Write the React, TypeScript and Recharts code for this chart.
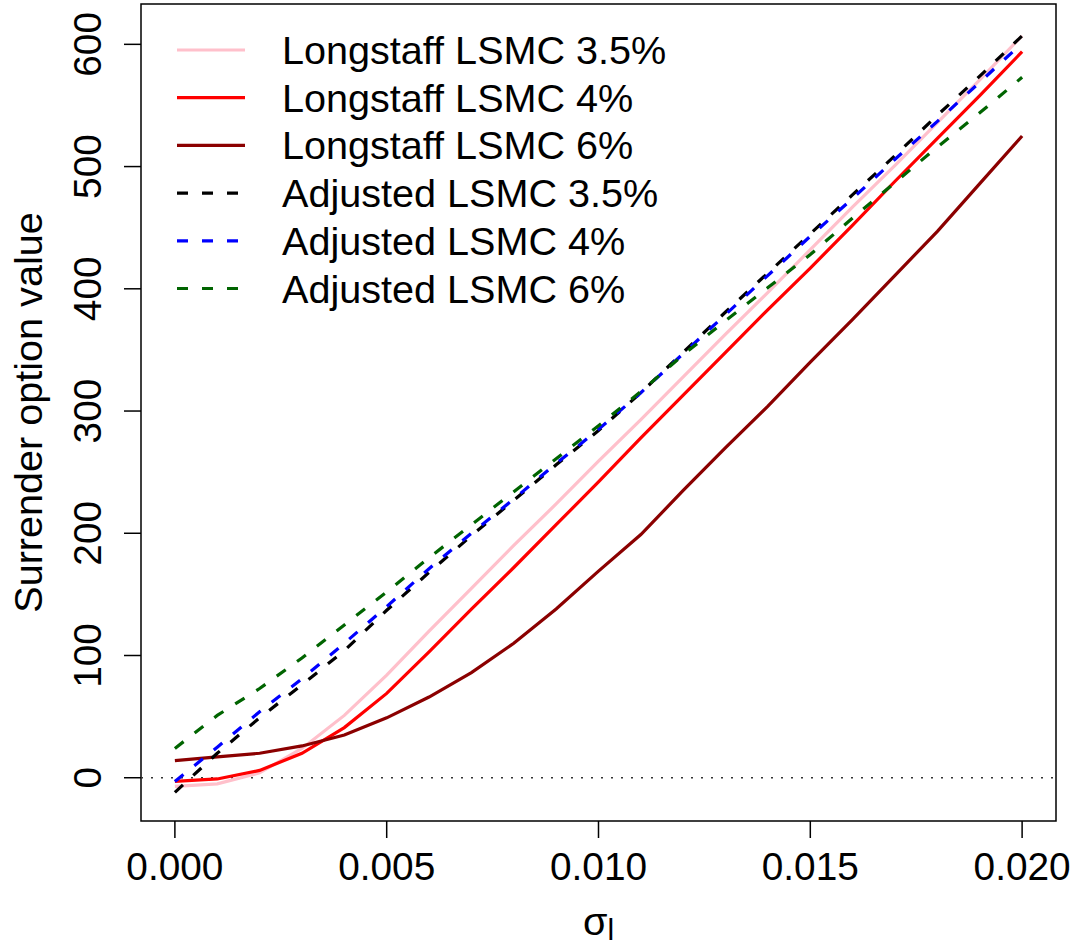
import React from 'react';
import { LineChart, Line, XAxis, YAxis, ReferenceLine, ReferenceArea, Legend } from 'recharts';

const sigmaL = [0, 0.001, 0.002, 0.003, 0.004, 0.005, 0.006, 0.007, 0.008, 0.009, 0.01, 0.011, 0.012, 0.013, 0.014, 0.015, 0.016, 0.017, 0.018, 0.019, 0.02];
const longstaff35 = [-7, -5, 4, 24, 51, 84, 120, 155, 190, 224, 259, 293, 328, 363, 397, 432, 467, 501, 536, 571, 607];
const longstaff4 = [-3, -1, 6, 20, 41, 69, 103, 138, 172, 207, 242, 278, 313, 348, 383, 417, 452, 488, 523, 558, 594];
const longstaff6 = [14, 17, 20, 26, 35, 49, 66, 86, 110, 138, 169, 199, 235, 270, 304, 340, 375, 411, 447, 486, 525];
const adjusted35 = [-12, 20, 49, 76, 104, 137, 168, 198, 227, 256, 284, 315, 348, 381, 413, 445, 477, 509, 542, 574, 607];
const adjusted4 = [-3, 25, 54, 81, 110, 140, 171, 200, 228, 257, 285, 315, 347, 379, 411, 443, 474, 506, 537, 569, 601];
const adjusted6 = [24, 51, 73, 98, 125, 152, 180, 207, 234, 261, 288, 316, 346, 374, 401, 428, 458, 487, 516, 544, 573];

const xTicks = [0, 0.005, 0.01, 0.015, 0.02];
const yTicks = [0, 100, 200, 300, 400, 500, 600];
const xDomain: [number, number] = [-0.0008, 0.0208];
const yDomain: [number, number] = [-35.4, 633];

const series = [
  { key: 'l35', name: 'Longstaff LSMC 3.5%', color: '#FFC0CB', dash: undefined as string | undefined, values: longstaff35 },
  { key: 'l4', name: 'Longstaff LSMC 4%', color: '#FF0000', dash: undefined, values: longstaff4 },
  { key: 'l6', name: 'Longstaff LSMC 6%', color: '#8B0000', dash: undefined, values: longstaff6 },
  { key: 'a35', name: 'Adjusted LSMC 3.5%', color: '#000000', dash: '11 14', values: adjusted35 },
  { key: 'a4', name: 'Adjusted LSMC 4%', color: '#0000FF', dash: '11 14', values: adjusted4 },
  { key: 'a6', name: 'Adjusted LSMC 6%', color: '#006400', dash: '11 14', values: adjusted6 },
];

const data = sigmaL.map((x, i) => {
  const row: Record<string, number> = { x };
  series.forEach((s) => { row[s.key] = s.values[i]; });
  return row;
});

const FONT = '"Liberation Sans", Arial, Helvetica, sans-serif';
const FS_TICK = 38.8;
const FS_TEXT = 39.6;
const LW = 3.2;

const YTick = (props: any) => {
  const { x, y, payload } = props;
  return (
    <text x={x} y={y} transform={`rotate(-90, ${x}, ${y})`} textAnchor="middle" fontSize={FS_TICK} fontFamily={FONT} fill="#000">
      {payload.value}
    </text>
  );
};

const YLabel = (props: any) => {
  const vb = props.viewBox || {};
  const x = vb.x + vb.width - 99;
  const y = vb.y + vb.height / 2;
  return (
    <text x={x} y={y} transform={`rotate(-90, ${x}, ${y})`} textAnchor="middle" fontSize={FS_TEXT} fontFamily={FONT} fill="#000">
      Surrender option value
    </text>
  );
};

const XLabel = (props: any) => {
  const vb = props.viewBox || {};
  const x = vb.x + vb.width / 2;
  const y = vb.y + 114;
  return (
    <text x={x} y={y} textAnchor="middle" fontSize={FS_TEXT} fontFamily={FONT} fill="#000">
      σ<tspan fontSize={30} dy={5}>l</tspan>
    </text>
  );
};

const LegendContent = () => (
  <svg width={600} height={320} style={{ display: 'block' }}>
    {series.map((s, i) => {
      const cy = 24 + i * 47.7;
      return (
        <g key={s.key}>
          <line x1={2} x2={70} y1={cy} y2={cy} stroke={s.color} strokeWidth={LW} strokeDasharray={s.dash} />
          <text x={107} y={cy + 14} fontSize={FS_TEXT} fontFamily={FONT} fill="#000">{s.name}</text>
        </g>
      );
    })}
  </svg>
);

export default function App() {
  return (
    <div style={{ position: 'absolute', left: 0, top: 0, background: '#fff' }}>
      <LineChart width={1078} height={948} data={data} margin={{ top: 4, right: 22, bottom: 0, left: 0 }}>
        <XAxis
          dataKey="x"
          type="number"
          domain={xDomain}
          ticks={xTicks}
          allowDataOverflow
          height={127}
          axisLine={false}
          tickLine={{ stroke: '#000', strokeWidth: 1.5 }}
          tickSize={17}
          tickMargin={14}
          tick={{ fontSize: FS_TICK, fontFamily: FONT, fill: '#000' }}
          tickFormatter={(v: number) => v.toFixed(3)}
          interval={0}
          label={<XLabel />}
        />
        <YAxis
          type="number"
          domain={yDomain}
          ticks={yTicks}
          allowDataOverflow
          width={141}
          axisLine={false}
          tickLine={{ stroke: '#000', strokeWidth: 1.5 }}
          tickSize={17}
          tickMargin={23}
          tick={<YTick />}
          interval={0}
          label={<YLabel />}
        />
        <ReferenceLine y={0} stroke="#333" strokeWidth={1.5} strokeDasharray="2 8" />
        {series.map((s) => (
          <Line
            key={s.key}
            dataKey={s.key}
            name={s.name}
            type="linear"
            stroke={s.color}
            strokeWidth={LW}
            strokeDasharray={s.dash}
            dot={false}
            activeDot={false}
            isAnimationActive={false}
          />
        ))}
        <ReferenceArea x1={xDomain[0]} x2={xDomain[1]} y1={yDomain[0]} y2={yDomain[1]} fill="none" stroke="#000" strokeWidth={1.5} ifOverflow="visible" />
        <Legend
          layout="vertical"
          align="center"
          verticalAlign="middle"
          content={<LegendContent />}
          wrapperStyle={{ position: 'absolute', left: 175, top: 26, width: 600, height: 320 }}
        />
      </LineChart>
    </div>
  );
}
